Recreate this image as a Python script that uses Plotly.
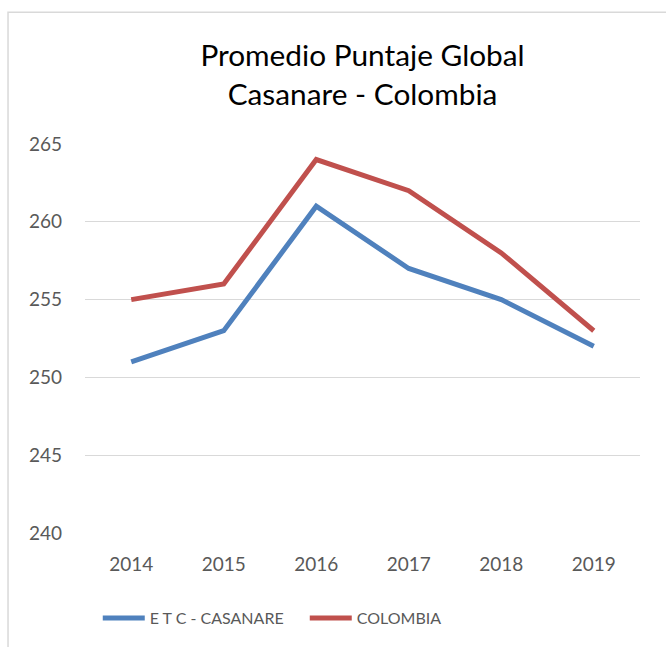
import plotly.graph_objects as go

# Data.
years = ["2014", "2015", "2016", "2017", "2018", "2019"]
casanare = [251, 253, 261, 257, 255, 252]
colombia = [255, 256, 264, 262, 258, 253]
y_ticks = [240, 245, 250, 255, 260, 265]

FONT = "Lato"
BLUE = "#4F81BD"
RED = "#C0504D"
GRID = "#D9D9D9"
TICK = "#595959"

fig = go.Figure()
fig.add_trace(go.Scatter(
    x=years, y=casanare, mode="lines", name="E T C - CASANARE",
    line=dict(color=BLUE, width=5),
))
fig.add_trace(go.Scatter(
    x=years, y=colombia, mode="lines", name="COLOMBIA",
    line=dict(color=RED, width=5),
))

# Chart frame (only left and top edges are visible in the reference).
fig.add_shape(
    type="rect", xref="paper", yref="paper",
    x0=-0.1387, x1=1.3, y0=-0.6, y1=1.339,
    line=dict(color=GRID, width=1.5), layer="below",
)

fig.update_layout(
    width=666, height=647,
    margin=dict(l=85, r=26, t=144, b=114),
    paper_bgcolor="white", plot_bgcolor="white",
    font=dict(family=FONT, color=TICK),
    title=dict(
        text="Promedio Puntaje Global<br>Casanare - Colombia",
        x=0.5, xanchor="center", xref="paper",
        y=(647 - 66) / 647, yanchor="middle",
        font=dict(family=FONT, size=29.8, color="black"),
    ),
    legend=dict(
        orientation="h", x=0.023, xanchor="left",
        y=-0.2185, yanchor="middle",
        font=dict(family=FONT, size=16, color=TICK),
        itemwidth=42, entrywidth=150,
    ),
    showlegend=True,
)
fig.update_xaxes(
    range=[-0.5, 5.5], showgrid=False, showline=False, zeroline=False,
    tickfont=dict(size=19, color=TICK), ticks="", ticklabelstandoff=18,
)
fig.update_yaxes(
    range=[240, 265], tickvals=y_ticks, showgrid=True, gridcolor=GRID,
    gridwidth=1.3, zeroline=False, showline=False,
    tickfont=dict(size=19, color=TICK), ticks="", ticklabelstandoff=22,
)

fig.write_html(
    "out.html",
    config={"displayModeBar": False},
    post_script="document.body.style.margin='0';",
)
